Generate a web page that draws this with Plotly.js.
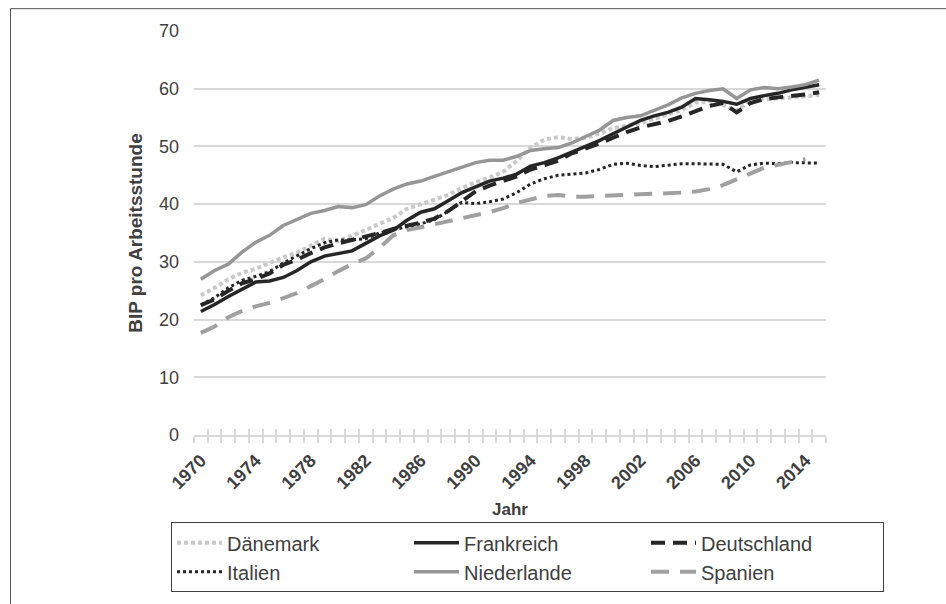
<!DOCTYPE html>
<html>
<head>
<meta charset="utf-8">
<script src="https://cdn.plot.ly/plotly-3.0.1.min.js"></script>
<style>
html,body{margin:0;padding:0;background:#fff;}
#chart{width:946px;height:604px;}
</style>
</head>
<body>
<div id="chart"></div>
<script>
const years = [];
for (let y = 1970; y <= 2015; y++) years.push(y);

const tickYears = [1970,1974,1978,1982,1986,1990,1994,1998,2002,2006,2010,2014];
const tickLabels = tickYears.map(String);

const daenemark = [24.2,25.5,27.0,28.1,28.8,29.8,30.8,31.6,32.8,34.0,33.6,34.5,35.5,36.6,37.6,39.2,40.0,40.8,41.6,42.8,43.8,44.6,45.6,47.5,49.8,51.2,51.6,51.3,51.5,52.2,53.2,53.6,54.0,54.8,55.5,56.3,57.6,57.8,57.2,56.2,57.9,58.2,58.3,58.5,58.7,58.9];
const frankreich = [21.4,22.6,24.0,25.3,26.5,26.7,27.3,28.5,30.0,31.0,31.4,31.9,33.2,34.5,35.5,37.2,38.6,39.2,40.6,42.0,43.0,44.0,44.5,45.2,46.6,47.2,48.0,49.0,50.0,51.0,52.2,53.3,54.5,55.3,55.9,56.8,58.3,58.1,57.8,57.3,58.3,58.8,59.2,59.8,60.3,60.7];
const deutschland = [22.5,23.5,25.0,26.3,27.0,28.0,29.5,30.4,31.5,32.5,33.2,33.8,34.3,35.0,35.7,36.2,36.8,37.5,38.8,40.5,42.2,43.2,44.0,44.8,46.0,46.8,47.5,48.8,49.6,50.5,51.5,52.5,53.3,53.8,54.4,55.2,56.1,57.0,57.5,55.9,57.5,58.2,58.5,58.7,59.0,59.4];
const italien = [22.5,23.8,25.5,26.8,27.5,28.3,29.8,31.0,32.3,33.3,33.8,33.8,34.0,35.0,35.5,36.0,36.6,37.3,38.8,40.3,40.1,40.4,40.9,42.0,43.5,44.4,45.0,45.2,45.4,46.0,46.9,47.1,46.7,46.5,46.8,47.0,47.0,47.0,46.9,45.6,46.8,47.1,47.0,47.2,47.1,47.1];
const niederlande = [27.0,28.5,29.6,31.7,33.4,34.6,36.3,37.4,38.4,38.9,39.6,39.4,39.9,41.4,42.6,43.5,44.0,44.8,45.6,46.4,47.2,47.6,47.6,48.3,49.3,49.6,49.8,50.6,51.7,52.8,54.5,55.0,55.3,56.2,57.2,58.4,59.2,59.7,60.0,58.3,59.8,60.2,60.0,60.3,60.7,61.5];
const spanien = [17.7,18.8,20.4,21.5,22.3,22.9,23.7,24.6,25.8,27.0,28.4,29.6,30.6,32.4,34.6,35.5,36.0,36.5,37.0,37.5,38.0,38.6,39.3,40.2,40.8,41.4,41.6,41.3,41.3,41.4,41.5,41.6,41.6,41.7,41.8,42.0,42.2,42.6,43.3,44.3,45.2,46.3,46.8,47.3,47.8,null];

const seriesNames = ["Dänemark","Frankreich","Deutschland","Italien","Niederlande","Spanien"];
const seriesValues = [daenemark, frankreich, deutschland, italien, niederlande, spanien];
const seriesStyles = [
  {color:"#c9c9c9", width:4, dash:"4px,3px"},
  {color:"#262626", width:3.5, dash:"solid"},
  {color:"#262626", width:4, dash:"14px,8px"},
  {color:"#262626", width:3, dash:"3px,3px"},
  {color:"#969696", width:3.5, dash:"solid"},
  {color:"#a0a0a0", width:4, dash:"18px,11px"}
];

const traces = seriesNames.map((n, i) => ({
  type: "scatter", mode: "lines", name: n,
  x: years, y: seriesValues[i],
  line: seriesStyles[i],
  hoverinfo: "x+y+name"
}));
traces.push({type:"scatter", mode:"lines", x:[], y:[], xaxis:"x2", yaxis:"y", showlegend:false, hoverinfo:"skip"});

const font = "'Liberation Sans', Arial, sans-serif";
const L = 194, R = 120, T = 31, B = 166, W = 946, H = 604;
const pw = W - L - R, ph = H - T - B;
const px = v => (v - L) / pw;
const py = v => (H - B - v) / ph;

const layout = {
  width: W, height: H,
  margin: {l: L, r: R, t: T, b: B, pad: 0},
  paper_bgcolor: "#fff", plot_bgcolor: "#fff",
  font: {family: font, color: "#404040"},
  showlegend: true,
  xaxis: {
    type: "linear", range: [1969.5, 2015.5],
    tickmode: "array", tickvals: tickYears, ticktext: tickLabels,
    tickangle: -45, ticks: "", ticklabelstandoff: 6,
    tickfont: {family: font, size: 18, weight: "bold", color: "#404040"},
    showgrid: false, zeroline: false,
    showline: true, linecolor: "#d9d9d9", linewidth: 2,
    minor: {tickmode: "linear", tick0: 1969.5, dtick: 1, ticks: "outside", ticklen: 6, tickwidth: 2, tickcolor: "#d9d9d9", showgrid: false},
    title: {text: "Jahr", font: {family: font, size: 17, weight: "bold", color: "#404040"}, standoff: 11},
    fixedrange: true
  },
  xaxis2: {
    overlaying: "x", anchor: "y", side: "bottom", type: "linear", range: [1969.5, 2015.5],
    tickmode: "linear", tick0: 1969.5, dtick: 1, ticks: "inside", ticklen: 6, tickwidth: 2, tickcolor: "#d9d9d9",
    showticklabels: false, showgrid: false, zeroline: false, showline: false, fixedrange: true
  },
  yaxis: {
    range: [0, 70], tickmode: "linear", tick0: 0, dtick: 10,
    tickfont: {family: font, size: 18, color: "#404040"},
    showgrid: true, gridcolor: "#d9d9d9", gridwidth: 2,
    zeroline: false, showline: false, ticks: "", ticklabelstandoff: 14,
    title: {text: "BIP pro Arbeitsstunde", font: {family: font, size: 19, weight: "bold", color: "#404040"}, standoff: 11},
    fixedrange: true
  },
  legend: {
    orientation: "h", x: px(171), xanchor: "left", y: py(526), yanchor: "top",
    bordercolor: "#404040", borderwidth: 1, bgcolor: "#fff",
    font: {family: font, size: 20, color: "#404040"},
    entrywidth: 177, itemwidth: 45, traceorder: "normal"
  },
  shapes: [{
    type: "path", xref: "paper", yref: "paper",
    path: "M " + px(10.5) + "," + py(700) + " L " + px(10.5) + "," + py(8.5) + " L " + px(1000) + "," + py(8.5),
    line: {color: "#555", width: 1}
  }]
};

Plotly.newPlot("chart", traces, layout, {displayModeBar: false, staticPlot: true});
</script>
</body>
</html>
